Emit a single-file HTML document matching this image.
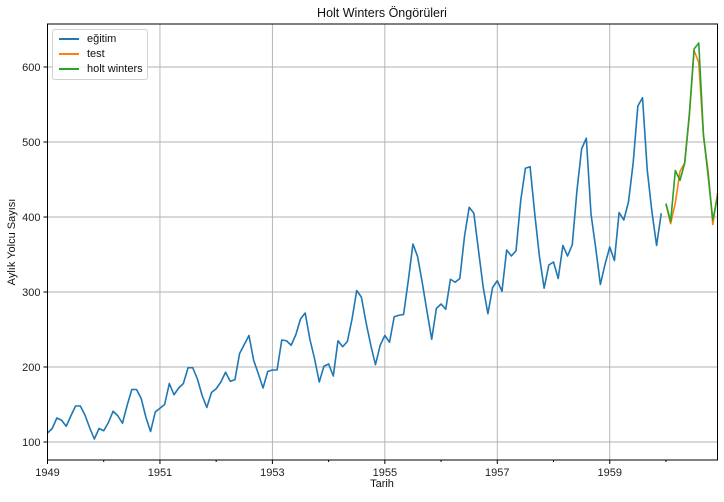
<!DOCTYPE html>
<html><head><meta charset="utf-8"><style>
body{margin:0;background:#fff;font-family:"Liberation Sans","DejaVu Sans",sans-serif;}
svg text{font-family:"Liberation Sans","DejaVu Sans",sans-serif;}
</style></head><body>
<svg id="chart" width="724" height="497" xmlns="http://www.w3.org/2000/svg"></svg>
<script>
const train = [112,118,132,129,121,135,148,148,136,119,104,118,
115,126,141,135,125,149,170,170,158,133,114,140,
145,150,178,163,172,178,199,199,184,162,146,166,
171,180,193,181,183,218,230,242,209,191,172,194,
196,196,236,235,229,243,264,272,237,211,180,201,
204,188,235,227,234,264,302,293,259,229,203,229,
242,233,267,269,270,315,364,347,312,274,237,278,
284,277,317,313,318,374,413,405,355,306,271,306,
315,301,356,348,355,422,465,467,404,347,305,336,
340,318,362,348,363,435,491,505,404,359,310,337,
360,342,406,396,420,472,548,559,463,407,362,405];
const test = [417,391,419,461,472,535,622,606,508,461,390,432];
const hw = [418,394,462,449,472,538,624,632,510,455,396,427];
const yTicks = [100,200,300,400,500,600];
const xTicks = [1949,1951,1953,1955,1957,1959];
const xMinor = [1950,1952,1954,1956,1958,1960];

const L=47.5,R=717.5,T=24,B=460;
const x0=1949, x1=1960+11/12;
const X = t => L+(t-x0)/(x1-x0)*(R-L);
const Y = v => 442-(v-100)*0.75;
const svg=document.getElementById('chart');
const NS='http://www.w3.org/2000/svg';
function mk(tag,attrs,parent){const e=document.createElementNS(NS,tag);for(const k in attrs)e.setAttribute(k,attrs[k]);(parent||svg).appendChild(e);return e;}

const grid=mk('g',{});


yTicks.forEach(v=>{
  mk('line',{x1:L,x2:R,y1:Y(v),y2:Y(v),stroke:'#b0b0b0','stroke-width':0.9},grid);
  mk('line',{x1:L-4,x2:L,y1:Y(v),y2:Y(v),stroke:'#000'},grid);
  const t=mk('text',{x:L-7,y:Y(v)+4,'text-anchor':'end','font-size':11,fill:'#222'});
  t.textContent=v;
  
  
});
xTicks.forEach(v=>{
  mk('line',{x1:X(v),x2:X(v),y1:T,y2:B,stroke:'#b0b0b0','stroke-width':0.9},grid);
  mk('line',{x1:X(v),x2:X(v),y1:B,y2:B+4,stroke:'#000'},grid);
  const t=mk('text',{x:X(v),y:B+16,'text-anchor':'middle','font-size':11,fill:'#222'});
  t.textContent=v;
  
  
});
xMinor.forEach(v=>mk('line',{x1:X(v),x2:X(v),y1:B,y2:B+2,stroke:'#000'},grid));

function series(data,start,color,name){
  const pts=data.map((v,i)=>X(start+i/12).toFixed(2)+','+Y(v).toFixed(2)).join(' ');
  const p=mk('polyline',{points:pts,fill:'none',stroke:color,'stroke-width':1.6,'stroke-linejoin':'round'});
  
  
}
series(train,1949,'#1f77b4','train-line');
series(test,1960,'#ff7f0e','test-line');
series(hw,1960,'#2ca02c','holt-winters-line');

const ax=mk('rect',{x:L,y:T,width:R-L,height:B-T,fill:'none',stroke:'#000','stroke-width':1});


</script>
<div style="position:absolute;left:0;top:0;width:724px;height:497px;pointer-events:none">
<div style="position:absolute;left:0;width:764px;top:6px;text-align:center;font-size:12.5px;color:#111">Holt Winters Öngörüleri</div>
<div style="position:absolute;left:0;width:764px;top:478px;text-align:center;font-size:11px;color:#111">Tarih</div>
<div style="position:absolute;left:12px;top:242px;font-size:11px;color:#111;transform:translate(-50%,-50%) rotate(-90deg);white-space:nowrap">Aylık Yolcu Sayısı</div>
<div style="position:absolute;left:52px;top:29px;width:94px;height:49px;border:1px solid #d0d0d0;border-radius:3px;background:rgba(255,255,255,.85);font-size:11px;color:#111">
 <div style="position:absolute;left:6px;top:3px;white-space:nowrap"><span style="display:inline-block;width:20px;height:2px;background:#1f77b4;vertical-align:middle;margin-right:8px"></span>eğitim</div>
 <div style="position:absolute;left:6px;top:18px;white-space:nowrap"><span style="display:inline-block;width:20px;height:2px;background:#ff7f0e;vertical-align:middle;margin-right:8px"></span>test</div>
 <div style="position:absolute;left:6px;top:33px;white-space:nowrap"><span style="display:inline-block;width:20px;height:2px;background:#2ca02c;vertical-align:middle;margin-right:8px"></span>holt winters</div>
</div>
</div>
</body></html>
